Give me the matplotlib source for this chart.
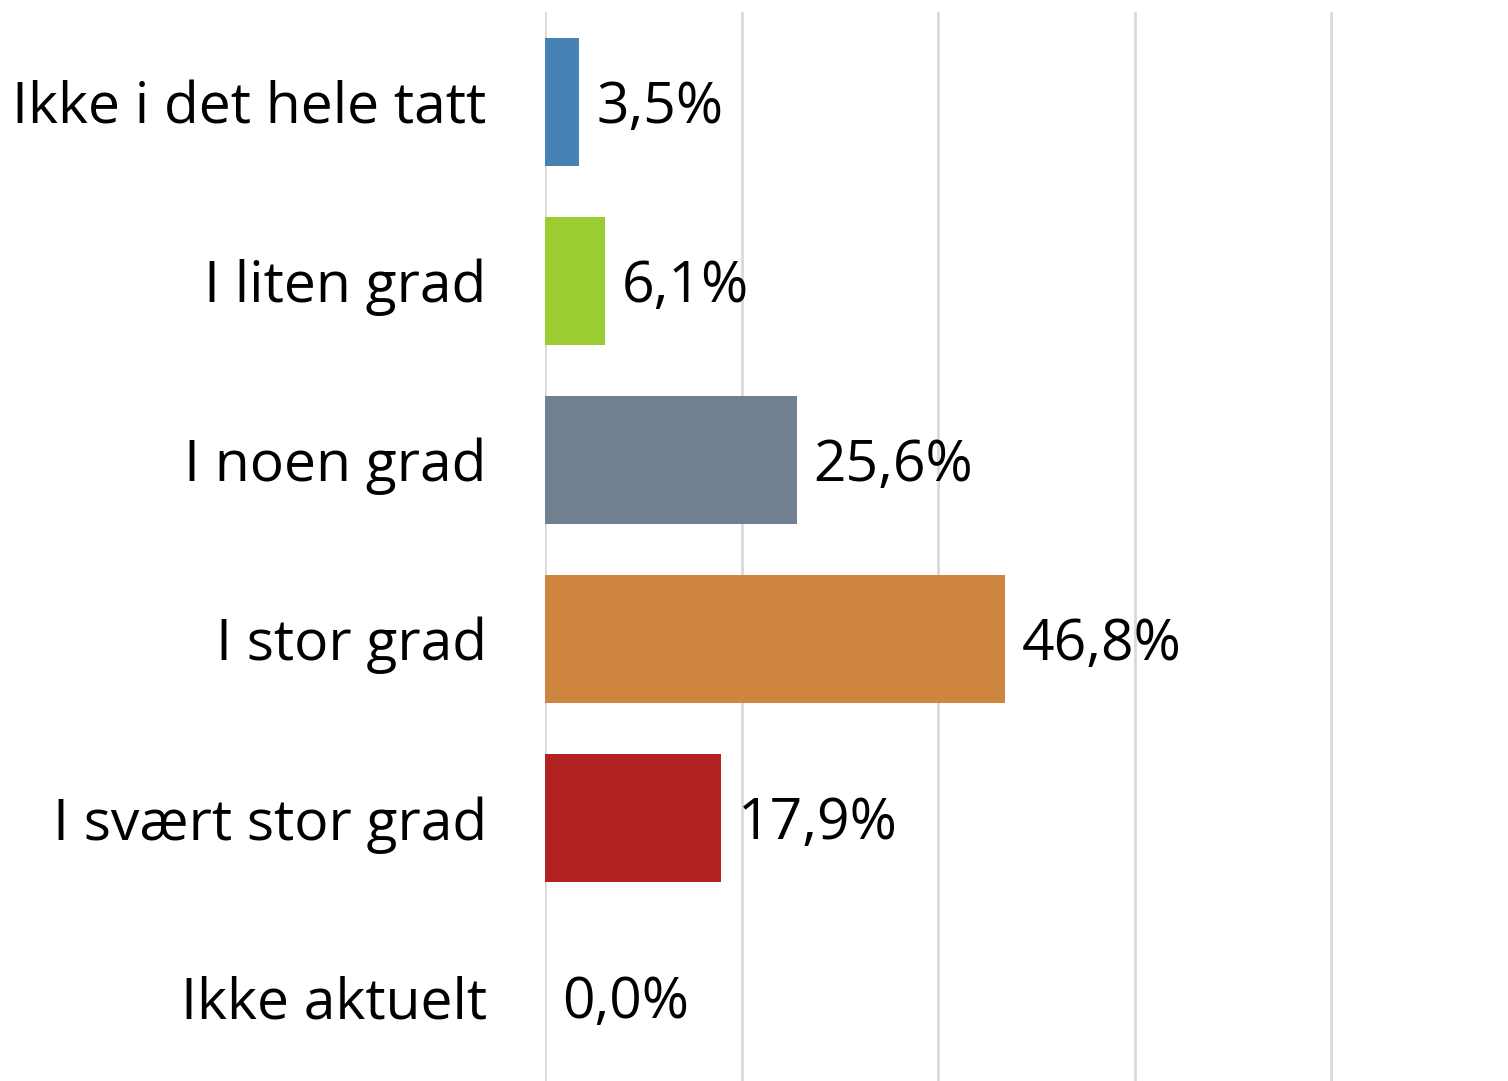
import matplotlib
matplotlib.use("Agg")
import matplotlib.pyplot as plt

categories = ["Ikke i det hele tatt", "I liten grad", "I noen grad", "I stor grad",
              "I svært stor grad", "Ikke aktuelt"]
values = [3.5, 6.1, 25.6, 46.8, 17.9, 0.0]
colors = ["#4682B4", "#9ACD32", "#708090", "#CD853F", "#B22222", "#B0B0B0"]

plt.rcParams['font.family'] = ['Open Sans', 'DejaVu Sans']

fig = plt.figure(figsize=(15.08, 10.81), dpi=100)
ax = fig.add_axes([545/1508, 0, 1 - 545/1508, 1 - 12/1081])

y = list(range(len(categories)))
ax.barh(y, values, height=0.715, color=colors, zorder=3)
ax.set_xlim(0, 98)
ax.set_ylim(5.47, -0.5)
ax.set_xticks([0, 20, 40, 60, 80])
ax.xaxis.grid(True, color="#d9d9d9", linewidth=2, zorder=0)
ax.set_xticklabels([])
ax.set_yticks(y)
ax.set_yticklabels(categories, fontsize=41)
ax.tick_params(axis='both', length=0)
ax.tick_params(axis='y', pad=42)
for s in ax.spines.values():
    s.set_visible(False)

for yi, v in zip(y, values):
    ax.annotate(f"{v:.1f}%".replace(".", ","), xy=(v, yi), xytext=(12, 0),
                textcoords="offset points", va="center_baseline", ha="left", fontsize=41)

fig.savefig("out.png", dpi=100)
